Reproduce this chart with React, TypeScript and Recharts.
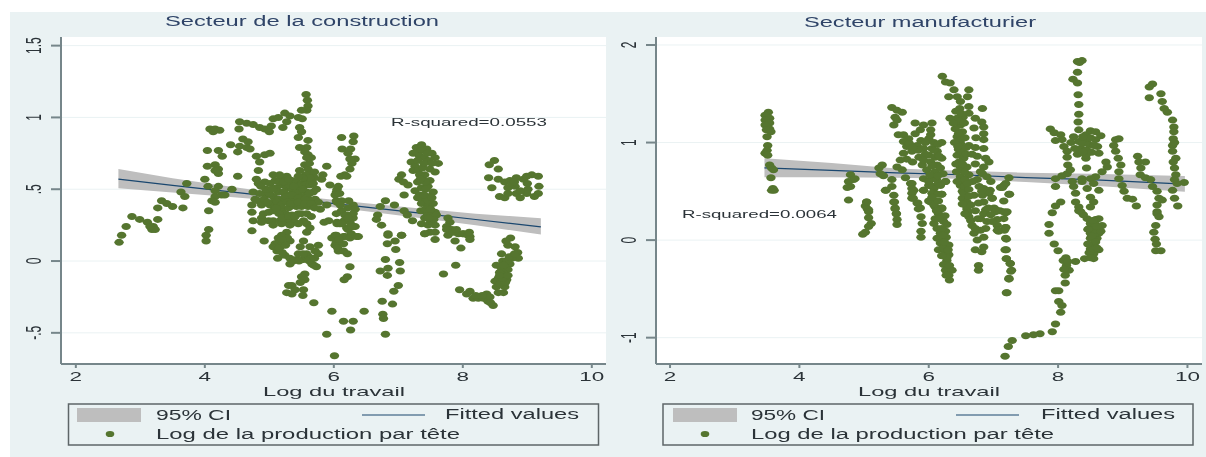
import React from "react";
import {
  Area,
  CartesianGrid,
  ComposedChart,
  Line,
  Scatter,
  XAxis,
  YAxis,
} from "recharts";

const xTicks = [2, 4, 6, 8, 10];
const constructionYTicks = [-0.5, 0, 0.5, 1, 1.5];
const manufacturingYTicks = [-1, 0, 1, 2];

// Fit and 95% band
const constructionBandX = [2.66, 3.5, 4.3, 5, 5.7, 6.5, 7.3, 8.2, 9.21];
const constructionFit = [0.57, 0.527, 0.487, 0.451, 0.416, 0.375, 0.335, 0.289, 0.238];
const constructionLow = [0.507, 0.477, 0.45, 0.423, 0.391, 0.347, 0.302, 0.249, 0.185];
const constructionHigh = [0.64, 0.577, 0.524, 0.479, 0.441, 0.403, 0.368, 0.329, 0.298];

const manufacturingBandX = [3.46, 4.5, 5.5, 6.5, 7.5, 8.5, 9.96];
const manufacturingFit = [0.74, 0.715, 0.69, 0.67, 0.64, 0.62, 0.574];
const manufacturingLow = [0.645, 0.645, 0.64, 0.63, 0.595, 0.56, 0.495];
const manufacturingHigh = [0.84, 0.79, 0.735, 0.71, 0.69, 0.68, 0.656];

// [log du travail, log de la production par tete]
const constructionPoints = [
  [5.57, 1.16], [5.59, 1.12], [5.6, 1.08], [5.58, 1.05], [5.5, 1.05], [5.06, 0.99], [5.14, 1.0], [5.24, 1.03],
  [5.32, 1.01], [5.45, 1.0], [5.51, 0.99], [5.27, 0.97], [5.21, 0.93], [4.54, 0.97], [4.65, 0.96], [4.75, 0.95],
  [4.85, 0.93], [4.93, 0.92], [5.03, 0.94], [5.0, 0.9], [4.53, 0.92], [4.08, 0.92], [4.16, 0.92], [4.23, 0.91],
  [4.13, 0.9], [5.47, 0.93], [5.5, 0.9], [5.45, 0.86], [4.59, 0.85], [4.67, 0.83], [4.54, 0.8], [4.65, 0.79],
  [4.7, 0.78], [4.51, 0.76], [4.4, 0.81], [4.04, 0.77], [4.21, 0.77], [4.27, 0.73], [4.8, 0.73], [4.93, 0.74],
  [5.01, 0.75], [4.85, 0.69], [5.6, 0.84], [5.58, 0.79], [5.47, 0.79], [5.55, 0.76], [5.6, 0.74], [5.65, 0.72],
  [5.58, 0.72], [5.55, 0.67], [5.6, 0.64], [5.47, 0.63], [5.89, 0.66], [5.65, 0.61], [4.16, 0.67], [4.04, 0.66],
  [4.21, 0.64], [4.16, 0.63], [4.21, 0.61], [4.0, 0.57], [4.51, 0.59], [4.83, 0.63], [5.06, 0.6], [5.83, 0.6],
  [5.81, 0.57], [4.8, 0.57], [4.83, 0.54], [4.93, 0.55], [5.01, 0.54], [5.09, 0.56], [5.17, 0.57], [5.27, 0.59],
  [5.35, 0.56], [5.42, 0.55], [5.5, 0.54], [5.58, 0.57], [5.55, 0.53], [5.63, 0.53], [5.48, 0.49], [5.58, 0.48],
  [5.68, 0.48], [5.61, 0.43], [5.71, 0.43], [5.73, 0.5], [5.11, 0.51], [5.19, 0.53], [5.27, 0.51], [5.35, 0.5],
  [5.42, 0.48], [5.14, 0.48], [5.22, 0.48], [5.3, 0.46], [5.06, 0.45], [5.14, 0.43], [5.22, 0.43], [5.37, 0.43],
  [5.5, 0.45], [4.75, 0.48], [4.78, 0.43], [4.73, 0.39], [4.83, 0.42], [4.88, 0.39], [5.01, 0.39], [5.06, 0.41],
  [4.21, 0.52], [4.16, 0.49], [4.05, 0.52], [4.26, 0.46], [4.16, 0.45], [4.11, 0.42], [4.31, 0.46], [4.16, 0.41],
  [4.42, 0.5], [4.06, 0.35], [5.42, 0.38], [5.45, 0.33], [4.73, 0.34], [5.79, 0.36], [5.89, 0.39], [6.02, 0.46],
  [5.94, 0.53], [6.05, 0.5], [6.05, 0.41], [5.76, 0.41], [4.91, 0.33], [4.99, 0.34], [5.06, 0.35], [4.75, 0.28],
  [4.88, 0.3], [4.99, 0.28], [5.06, 0.28], [5.17, 0.28], [5.24, 0.27], [5.32, 0.28], [5.4, 0.27], [5.53, 0.28],
  [6.05, 0.27], [4.06, 0.22], [4.02, 0.18], [4.02, 0.14], [4.73, 0.21], [4.92, 0.14], [4.88, 0.27], [5.06, 0.25],
  [5.19, 0.26], [5.32, 0.25], [5.45, 0.26], [5.58, 0.26], [5.63, 0.23], [5.58, 0.2], [5.27, 0.2], [5.19, 0.18],
  [5.14, 0.16], [5.09, 0.12], [5.17, 0.1], [5.06, 0.1], [5.14, 0.13], [5.32, 0.14], [5.53, 0.14], [5.48, 0.1],
  [5.63, 0.1], [5.76, 0.11], [5.71, 0.07], [5.76, 0.05], [5.58, 0.05], [5.92, 0.28], [6.05, 0.26], [6.02, 0.18],
  [5.97, 0.16], [6.05, 0.15], [6.02, 0.11], [6.07, 0.07], [5.13, 0.02], [5.24, 0.04], [5.32, 0.02], [5.42, 0.01],
  [5.53, 0.01], [5.61, 0.03], [5.32, -0.02], [5.37, 0.0], [5.66, -0.02], [5.73, -0.04], [5.69, -0.03], [5.55, -0.09],
  [5.5, -0.11], [5.55, -0.13], [5.48, -0.15], [5.35, -0.17], [5.3, -0.17], [5.53, -0.2], [5.4, -0.2], [5.27, -0.22],
  [5.35, -0.23], [5.52, -0.24], [5.69, -0.29], [5.97, -0.35], [5.89, -0.51], [6.01, -0.66], [6.12, 0.86], [6.31, 0.87],
  [6.3, 0.83], [6.13, 0.78], [6.26, 0.78], [6.22, 0.75], [6.33, 0.71], [6.28, 0.68], [6.25, 0.64], [6.17, 0.6],
  [6.11, 0.59], [6.25, 0.71], [6.2, 0.59], [6.07, 0.52], [6.04, 0.48], [6.09, 0.47], [6.04, 0.42], [6.3, 0.39],
  [6.22, 0.37], [6.12, 0.35], [6.33, 0.36], [6.04, 0.33], [6.3, 0.3], [6.17, 0.32], [6.09, 0.26], [6.2, 0.23],
  [6.33, 0.24], [6.27, 0.19], [6.17, 0.17], [6.38, 0.17], [7.05, 0.6], [7.01, 0.57], [7.08, 0.55], [7.15, 0.53],
  [7.09, 0.46], [6.8, 0.42], [6.72, 0.38], [6.94, 0.39], [7.09, 0.35], [7.14, 0.32], [6.68, 0.32], [6.66, 0.29],
  [6.74, 0.25], [7.22, 0.28], [6.84, 0.18], [7.05, 0.18], [7.28, 0.79], [7.36, 0.81], [7.44, 0.78], [7.52, 0.75],
  [7.57, 0.72], [7.62, 0.68], [7.23, 0.75], [7.28, 0.76], [7.36, 0.77], [7.2, 0.69], [7.26, 0.66], [7.23, 0.63],
  [7.31, 0.63], [7.49, 0.64], [7.57, 0.62], [7.41, 0.6], [7.39, 0.56], [7.49, 0.56], [7.26, 0.49], [7.36, 0.51],
  [7.46, 0.52], [7.54, 0.48], [7.33, 0.46], [7.49, 0.45], [7.41, 0.42], [7.36, 0.4], [7.46, 0.38], [7.54, 0.4],
  [7.57, 0.34], [7.49, 0.32], [7.59, 0.32], [7.41, 0.3], [7.36, 0.26], [7.57, 0.25], [7.49, 0.2], [7.41, 0.19],
  [7.46, 0.25], [7.77, 0.3], [7.8, 0.27], [7.75, 0.24], [7.83, 0.22], [7.93, 0.19], [8.01, 0.19], [8.11, 0.17],
  [7.77, 0.18], [8.49, 0.7], [8.41, 0.67], [8.55, 0.64], [8.4, 0.58], [8.55, 0.57], [8.65, 0.55], [8.73, 0.56],
  [8.83, 0.58], [8.94, 0.57], [9.07, 0.6], [9.17, 0.59], [8.99, 0.59], [8.45, 0.51], [8.7, 0.51], [8.81, 0.52],
  [9.01, 0.5], [9.18, 0.52], [8.83, 0.47], [8.89, 0.44], [8.57, 0.45], [8.65, 0.44], [9.17, 0.47], [9.11, 0.45],
  [8.99, 0.47], [8.89, 0.49], [8.76, 0.54], [6.84, 0.19], [7.05, 0.18], [6.83, 0.12], [6.95, 0.14], [6.96, 0.08],
  [6.8, 0.01], [7.02, -0.01], [6.84, -0.05], [6.72, -0.07], [7.03, -0.07], [6.83, -0.1], [7.0, -0.17], [6.93, -0.21],
  [6.75, -0.28], [6.91, -0.3], [6.76, -0.37], [6.77, -0.4], [6.8, -0.51], [6.47, -0.35], [6.15, -0.42], [6.3, -0.42],
  [6.26, -0.48], [6.25, -0.04], [6.21, -0.11], [6.16, -0.13], [6.04, 0.18], [6.15, 0.17], [6.25, 0.16], [6.35, 0.17],
  [6.3, 0.24], [6.22, 0.22], [6.04, 0.13], [6.06, 0.09], [6.15, 0.07], [6.21, 0.05], [7.41, 0.19], [7.57, 0.2],
  [7.57, 0.15], [7.75, 0.22], [7.85, 0.2], [8.0, 0.19], [8.08, 0.18], [7.88, 0.14], [8.11, 0.15], [7.97, 0.09],
  [7.89, -0.03], [7.7, -0.09], [8.74, 0.16], [8.7, 0.11], [8.81, 0.1], [8.85, 0.06], [8.6, 0.05], [8.86, 0.02],
  [8.76, 0.02], [8.73, -0.02], [8.52, -0.03], [8.6, -0.05], [8.7, -0.06], [8.65, -0.1], [8.55, -0.12], [8.68, -0.13],
  [8.5, -0.14], [8.6, -0.14], [8.52, -0.18], [8.65, -0.18], [8.55, -0.22], [8.63, -0.22], [7.95, -0.2], [8.11, -0.21],
  [8.16, -0.26], [8.24, -0.26], [8.37, -0.23], [8.32, -0.26], [8.39, -0.28], [8.47, -0.31], [8.06, -0.23], [3.72, 0.54],
  [3.63, 0.48], [3.69, 0.45], [3.33, 0.42], [3.41, 0.4], [3.27, 0.37], [3.5, 0.38], [3.66, 0.37], [2.87, 0.31],
  [2.99, 0.29], [3.11, 0.27], [3.27, 0.29], [2.78, 0.24], [3.2, 0.24], [2.71, 0.18], [2.67, 0.13], [3.18, 0.22],
  [3.23, 0.22], [3.15, 0.24],
  // thick parts of the cloud
  [5.2, 0.36], [5.3, 0.37], [5.4, 0.4], [5.5, 0.38], [5.6, 0.38], [5.15, 0.55], [5.3, 0.53], [5.45, 0.52],
  [5.25, 0.45], [5.35, 0.46], [5.45, 0.44], [5.55, 0.43], [5.65, 0.56], [5.7, 0.62], [5.62, 0.68], [5.56, 0.6],
  [5.25, 0.33], [5.35, 0.32], [4.85, 0.47], [4.95, 0.46], [5.0, 0.47], [7.33, 0.73], [7.4, 0.72], [7.47, 0.7],
  [7.33, 0.6], [7.38, 0.65], [7.3, 0.55], [7.42, 0.5], [7.35, 0.35], [7.45, 0.33], [7.5, 0.28], [8.62, 0.0],
  [8.68, 0.0], [8.72, 0.03], [8.62, -0.08], [8.58, -0.16], [8.66, -0.15], [8.42, -0.25], [8.1, 0.2], [7.9, 0.22],
  [6.12, 0.42], [6.16, 0.28], [6.25, 0.27], [6.3, 0.33], [6.23, 0.42], [5.85, 0.27], [5.2, 0.12], [5.65, 0.02],
  [5.12, 0.41], [5.18, 0.39], [5.28, 0.41], [5.33, 0.4], [5.45, 0.41], [5.55, 0.4], [5.65, 0.4], [5.7, 0.37],
  [5.1, 0.37], [5.15, 0.33], [5.2, 0.3], [5.3, 0.31], [5.4, 0.31], [5.5, 0.33], [5.58, 0.33], [5.65, 0.31],
  [5.16, 0.6], [5.22, 0.55], [5.3, 0.57], [5.38, 0.52], [5.52, 0.5], [5.62, 0.47], [5.68, 0.54], [5.7, 0.58],
  [5.63, 0.58], [5.52, 0.58], [5.45, 0.59], [4.95, 0.5], [5.05, 0.5], [4.87, 0.52], [4.92, 0.43], [4.97, 0.41],
  [5.28, 0.16], [5.2, 0.15], [5.12, 0.07], [5.2, 0.06], [5.15, 0.09], [5.25, 0.11], [5.45, 0.05], [5.52, 0.05],
  [5.62, 0.0], [5.46, 0.0], [5.7, 0.02], [7.3, 0.7], [7.4, 0.68], [7.45, 0.75], [7.52, 0.68], [7.42, 0.55],
  [7.34, 0.57], [7.3, 0.44], [7.4, 0.46], [7.46, 0.42], [7.52, 0.44], [7.42, 0.36], [7.5, 0.36], [7.55, 0.29],
  [7.47, 0.3], [8.57, -0.08], [8.62, -0.12], [8.57, -0.1], [8.7, -0.1], [8.63, -0.03], [8.8, 0.05], [8.67, 0.14],
  [8.3, -0.24], [8.2, -0.24], [8.43, -0.29], [9.0, 0.54], [8.7, 0.47], [8.8, 0.55], [6.12, 0.26], [6.2, 0.32],
  [6.28, 0.24], [6.1, 0.39], [6.22, 0.3], [6.15, 0.12], [6.08, 0.15],
];

const manufacturingPoints = [
  [3.52, 1.31], [3.47, 1.28], [3.54, 1.25], [3.47, 1.23], [3.54, 1.2], [3.47, 1.18], [3.54, 1.14], [3.49, 1.13],
  [3.56, 1.11], [3.5, 1.06], [3.51, 0.97], [3.5, 0.92], [3.47, 0.89], [3.51, 0.87], [3.54, 0.77], [3.57, 0.74],
  [3.6, 0.72], [3.56, 0.64], [3.59, 0.53], [3.61, 0.51], [3.57, 0.51], [4.79, 0.67], [4.84, 0.62], [4.76, 0.6],
  [4.79, 0.55], [4.74, 0.54], [4.86, 0.63], [4.76, 0.41], [5.04, 0.39], [5.02, 0.35], [5.07, 0.31], [5.28, 0.77],
  [5.23, 0.74], [5.25, 0.68], [5.3, 0.66], [5.43, 1.36], [5.51, 1.33], [5.59, 1.31], [5.48, 1.26], [5.46, 1.18],
  [5.51, 1.23], [5.79, 1.2], [5.92, 1.18], [6.05, 1.2], [5.87, 1.13], [6.03, 1.13], [5.53, 1.08], [5.61, 1.08],
  [5.79, 1.09], [5.69, 1.04], [5.61, 1.01], [5.66, 0.96], [6.0, 1.04], [6.03, 1.08], [5.82, 0.97], [5.92, 0.94],
  [6.2, 1.0], [6.05, 0.94], [5.61, 0.89], [5.74, 0.91], [5.84, 0.92], [6.13, 0.91], [5.56, 0.82], [6.0, 0.87],
  [6.1, 0.85], [6.2, 0.84], [5.51, 0.75], [5.59, 0.72], [5.9, 0.77], [6.03, 0.8], [6.13, 0.77], [5.97, 0.72],
  [6.1, 0.7], [6.05, 0.63], [5.64, 0.64], [5.92, 0.63], [6.26, 0.6], [5.43, 0.62], [5.74, 0.58], [5.43, 0.55],
  [6.03, 0.56], [5.33, 0.51], [5.77, 0.51], [5.92, 0.51], [6.08, 0.53], [5.46, 0.46], [5.74, 0.43], [6.08, 0.48],
  [6.2, 0.47], [5.46, 0.39], [5.82, 0.38], [5.48, 0.33], [5.87, 0.33], [6.03, 0.39], [6.1, 0.34], [6.2, 0.33],
  [5.5, 0.27], [6.21, 1.68], [6.26, 1.62], [6.33, 1.61], [6.39, 1.54], [6.31, 1.47], [6.44, 1.47], [6.49, 1.42],
  [6.48, 1.35], [6.62, 1.54], [6.6, 1.47], [6.33, 1.25], [6.44, 1.25], [6.53, 1.26], [6.49, 1.18], [6.41, 1.14],
  [6.52, 1.11], [6.44, 1.06], [6.49, 0.99], [6.62, 0.97], [6.44, 0.87], [6.54, 0.84], [6.49, 0.75], [6.59, 0.75],
  [6.49, 0.65], [6.62, 0.67], [6.49, 0.56], [6.52, 0.5], [6.57, 0.36], [6.52, 0.43], [6.62, 1.3], [6.62, 1.37],
  [5.04, 0.39], [5.05, 0.32], [5.07, 0.29], [5.07, 0.23], [5.11, 0.17], [5.07, 0.14], [5.02, 0.08], [4.98, 0.06],
  [5.47, 0.39], [5.48, 0.32], [5.5, 0.27], [5.51, 0.21], [5.51, 0.16], [5.34, 0.51], [5.72, 0.58], [5.74, 0.53],
  [5.74, 0.48], [5.76, 0.43], [5.83, 0.38], [5.84, 0.32], [5.88, 0.24], [5.9, 0.17], [5.88, 0.09], [5.88, 0.03],
  [6.0, 0.56], [5.92, 0.51], [6.05, 0.48], [6.2, 0.47], [6.26, 0.6], [6.0, 0.4], [6.08, 0.36], [6.2, 0.32],
  [6.15, 0.27], [6.23, 0.19], [6.08, 0.17], [6.13, 0.12], [6.26, 0.09], [6.13, 0.02], [6.23, 0.0], [6.18, -0.03],
  [6.31, -0.05], [6.15, -0.1], [6.26, -0.12], [6.31, -0.15], [6.28, -0.21], [6.23, -0.25], [6.26, -0.31], [6.36, -0.31],
  [6.31, -0.36], [6.32, -0.41], [6.51, 0.58], [6.54, 0.48], [6.59, 0.39], [6.59, 0.32], [6.62, 0.24], [6.67, 0.15],
  [6.7, 0.07], [6.75, 0.0], [6.72, -0.1], [6.82, -0.12], [6.85, -0.07], [6.77, -0.26], [6.77, -0.31], [6.7, 0.46],
  [6.77, 0.38], [6.85, 0.53], [6.95, 0.51], [6.98, 0.43], [6.85, 0.27], [6.9, 0.19], [6.88, 0.12], [6.85, 0.03],
  [7.03, 0.31], [7.19, 0.28], [7.16, 0.22], [7.06, 0.15], [7.19, 0.13], [7.08, 0.09], [7.24, 0.64], [7.19, 0.58],
  [7.14, 0.54], [7.24, 0.47], [7.16, 0.4], [7.19, 0.02], [7.2, -0.1], [7.2, -0.19], [7.26, -0.24], [7.28, -0.31],
  [7.24, -0.4], [7.2, -0.54], [6.83, 1.35], [6.82, 1.21], [6.85, 1.16], [6.85, 1.09], [6.85, 1.03], [6.85, 0.94],
  [6.88, 0.84], [6.93, 0.8], [6.85, 0.75], [6.83, 0.68], [6.88, 0.51], [6.93, 0.48], [6.83, 0.46], [6.98, 0.43],
  [7.01, 0.33], [6.85, 0.39], [6.88, 0.31], [7.16, 0.56], [7.11, 0.54], [7.25, 0.47], [7.21, 0.29], [7.04, 0.31],
  [8.3, 1.83], [8.37, 1.84], [8.33, 1.82], [8.3, 1.72], [8.23, 1.65], [8.3, 1.61], [8.31, 1.49], [8.32, 1.39],
  [8.32, 1.29], [8.31, 1.21], [8.32, 1.13], [7.88, 1.14], [7.94, 1.1], [8.04, 1.08], [7.96, 1.02], [8.06, 1.03],
  [8.09, 0.96], [8.14, 0.91], [8.14, 0.85], [8.15, 0.77], [8.24, 1.06], [8.32, 1.01], [8.43, 1.08], [8.5, 1.12],
  [8.58, 1.11], [8.66, 1.07], [8.45, 1.03], [8.58, 1.03], [8.35, 0.94], [8.45, 0.92], [8.61, 0.96], [8.63, 0.89],
  [8.43, 0.84], [8.43, 0.87], [8.74, 0.8], [8.76, 0.75], [8.68, 0.7], [8.44, 0.74], [8.58, 0.65], [8.14, 0.68],
  [8.06, 0.66], [7.96, 0.63], [8.19, 0.72], [8.37, 0.63], [8.5, 0.63], [8.55, 0.58], [8.22, 0.6], [7.96, 0.55],
  [8.24, 0.55], [8.45, 0.53], [8.63, 0.51], [8.27, 0.48], [8.5, 0.44], [8.04, 0.39], [7.96, 0.35], [8.55, 0.39],
  [8.27, 0.39], [8.32, 0.34], [8.5, 0.34], [7.91, 0.28], [8.35, 0.29], [8.89, 1.03], [8.94, 1.04], [8.86, 0.97],
  [8.89, 0.91], [8.93, 0.84], [8.97, 0.77], [8.94, 0.7], [8.94, 0.63], [8.99, 0.56], [9.02, 0.5], [9.07, 0.43],
  [9.15, 0.42], [9.21, 0.35], [9.23, 0.86], [9.25, 0.8], [9.35, 0.8], [9.28, 0.74], [9.27, 0.67], [9.35, 0.64],
  [9.43, 0.62], [9.46, 1.6], [9.41, 1.57], [9.41, 1.46], [9.59, 1.5], [9.61, 1.42], [9.64, 1.35], [9.69, 1.31],
  [9.77, 1.23], [9.79, 1.16], [9.79, 1.11], [9.78, 1.04], [9.77, 0.97], [9.77, 0.91], [9.82, 0.84], [9.8, 0.74],
  [9.82, 0.67], [9.95, 0.59], [9.84, 0.58], [9.77, 0.51], [9.8, 0.43], [9.85, 0.35], [9.46, 0.55], [9.53, 0.5],
  [9.56, 0.43], [9.61, 0.41], [9.53, 0.36], [9.53, 0.29], [7.86, 0.16], [7.86, 0.07], [7.94, -0.04], [8.0, -0.11],
  [8.08, -0.21], [8.27, -0.22], [8.41, -0.19], [8.55, -0.19], [8.17, -0.31], [8.13, -0.26], [8.11, -0.36], [8.11, -0.44],
  [8.01, -0.52], [7.96, -0.52], [8.01, -0.63], [8.06, -0.67], [8.04, -0.74], [7.96, -0.86], [7.91, -0.94], [7.72, -0.96],
  [7.62, -0.97], [7.5, -0.98], [7.29, -1.03], [7.23, -1.09], [7.18, -1.19], [7.21, -0.54], [7.24, -0.39], [7.27, -0.32],
  [7.26, -0.24], [7.2, -0.19], [7.18, -0.1], [7.2, 0.01], [7.17, 0.1], [8.5, -0.09], [8.55, -0.04], [8.6, 0.02],
  [8.5, 0.02], [8.63, 0.07], [8.5, 0.07], [8.63, 0.12], [8.68, 0.15], [8.58, 0.21], [8.5, 0.17], [8.45, 0.22],
  [8.39, 0.26], [8.32, 0.3], [8.48, 0.12], [8.63, -0.1], [8.63, 0.22], [8.55, -0.14], [8.48, -0.13], [9.53, 0.27],
  [9.56, 0.24], [9.51, 0.15], [9.48, 0.08], [9.5, 0.01], [9.52, -0.04], [9.51, -0.11], [9.59, -0.11], [7.03, 0.29],
  [7.16, 0.29], [7.06, 0.21], [7.19, 0.13], [7.06, 0.1], [6.98, 0.19],
  // thick parts of the columns
  [6.47, 1.22], [6.38, 1.2], [6.46, 1.09], [6.5, 1.03], [6.46, 0.93], [6.52, 0.9], [6.58, 0.88], [6.47, 0.8],
  [6.55, 0.7], [6.43, 0.7], [6.47, 0.6], [6.55, 0.55], [6.62, 0.45], [6.65, 0.36], [6.6, 0.28], [6.65, 0.2],
  [5.95, 0.88], [6.02, 0.67], [6.12, 0.62], [6.0, 0.6], [6.15, 0.58], [6.15, 0.4], [6.25, 0.25], [6.18, 0.07],
  [6.22, -0.08], [6.28, -0.18], [6.2, 0.33], [6.1, 0.22], [6.27, 0.03], [6.7, 1.15], [6.73, 1.05], [6.72, 0.95],
  [6.75, 0.86], [6.72, 0.78], [6.8, 0.7], [6.75, 0.62], [6.68, 0.6], [6.62, 0.52], [6.96, 0.6], [6.9, 0.65],
  [6.8, 0.1], [6.8, 0.22], [8.55, 0.12], [8.58, 0.07], [8.55, -0.09], [8.58, 0.16], [8.66, 0.09], [8.43, 0.92],
  [8.38, 0.99], [8.48, 0.98], [8.3, 0.88], [8.37, 0.6], [9.78, 0.8], [9.8, 0.62],
  [5.7, 0.99], [5.75, 0.95], [5.88, 1.02], [5.95, 1.0], [5.66, 0.83], [5.75, 0.8], [5.85, 0.85], [5.92, 0.82],
  [6.08, 1.0], [6.14, 0.98], [6.16, 0.86], [6.08, 0.92], [6.18, 0.74], [6.22, 0.68], [6.05, 0.76], [6.14, 0.66],
  [6.18, 0.56], [6.14, 0.47], [6.05, 0.44], [6.12, 0.3], [6.16, 0.22], [6.2, 0.12], [6.28, 0.16], [6.22, 0.05],
  [6.24, -0.02], [6.3, -0.1], [6.2, -0.16], [6.32, -0.26], [6.27, -0.36], [6.42, 1.32], [6.5, 1.3], [6.55, 1.2],
  [6.4, 1.0], [6.45, 0.96], [6.56, 1.05], [6.58, 0.95], [6.42, 0.78], [6.52, 0.78], [6.44, 0.6], [6.56, 0.62],
  [6.6, 0.58], [6.52, 0.37], [6.56, 0.27], [6.72, 1.25], [6.67, 0.88], [6.78, 0.55], [6.82, 0.5], [6.72, 0.3],
  [6.76, 0.22], [6.72, 0.12], [6.92, 0.33], [6.96, 0.26], [7.1, 0.3], [8.5, 1.05], [8.38, 1.06], [8.2, 1.0],
  [8.26, 0.94], [8.38, 0.9], [8.52, 0.9], [8.55, 0.97], [8.46, 0.11], [8.52, 0.04], [8.58, -0.02], [8.6, -0.08],
  [8.46, -0.04], [8.54, 0.2], [8.6, 0.14], [8.5, -0.18], [8.12, -0.18], [8.15, -0.22], [8.09, -0.3], [9.8, 1.0],
];

const PANEL_BG = "#eaf2f3";
const AXIS_COLOR = "#76868a";
const DOT_COLOR = "#55752f";
const FIT_COLOR = "#1a476f";
const BAND_COLOR = "#bebebe";
const TEXT_COLOR = "#2b3338";
const FONT = "'Liberation Sans', Arial, sans-serif";

const formatY = (v: number) => String(v).replace("0.", ".");

const XTick = ({ x, y, payload }: any) => (
  <text
    x={x}
    y={y + 13}
    textAnchor="middle"
    fontFamily={FONT}
    fontSize={13}
    fill={TEXT_COLOR}
    textLength={payload.value >= 10 ? 25 : 12.5}
    lengthAdjust="spacingAndGlyphs"
  >
    {payload.value}
  </text>
);

const YTick = ({ x, y, payload }: any) => (
  <text
    transform={`translate(${x - 10},${y}) scale(1.8,1) rotate(-90)`}
    textAnchor="middle"
    fontFamily={FONT}
    fontSize={12}
    fill={TEXT_COLOR}
  >
    {formatY(payload.value)}
  </text>
);

const Dot = ({ cx, cy }: any) => (
  <ellipse cx={cx} cy={cy} rx={4.7} ry={3.5} fill={DOT_COLOR} />
);

function Panel({ left, marginLeft, xDomain, yDomain, yTicks, bandX, fit, low, high, points }: any) {
  const bandRows = bandX.map((x: number, i: number) => ({
    x,
    fit: fit[i],
    band: [low[i], high[i]],
  }));
  const dots = points.map(([x, y]: number[]) => ({ x, y }));
  return (
    <div style={{ position: "absolute", left, top: 12 }}>
      <ComposedChart
        width={596}
        height={445}
        data={bandRows}
        margin={{ top: 25, right: 0, bottom: 71, left: marginLeft }}
      >
        <CartesianGrid
          vertical={false}
          stroke={PANEL_BG}
          fill="#ffffff"
          horizontalValues={yTicks}
        />
        <XAxis
          type="number"
          dataKey="x"
          domain={xDomain}
          ticks={xTicks}
          allowDataOverflow
          height={22}
          tickSize={4}
          tickMargin={0}
          stroke={AXIS_COLOR}
          strokeWidth={2}
          tick={<XTick />}
        />
        <YAxis
          type="number"
          domain={yDomain}
          ticks={yTicks}
          allowDataOverflow
          width={30}
          tickSize={10}
          tickMargin={0}
          stroke={AXIS_COLOR}
          strokeWidth={2}
          tick={<YTick />}
        />
        <Area
          dataKey="band"
          stroke="none"
          fill={BAND_COLOR}
          fillOpacity={1}
          isAnimationActive={false}
          dot={false}
          activeDot={false}
        />
        <Line
          dataKey="fit"
          stroke={FIT_COLOR}
          strokeWidth={1.2}
          dot={false}
          activeDot={false}
          isAnimationActive={false}
        />
        <Scatter data={dots} dataKey="y" shape={<Dot />} isAnimationActive={false} />
      </ComposedChart>
    </div>
  );
}

// Stretched label: the reference is widened, so each text gets its measured width
const Label = ({ x, y, w, size = 14, fill = TEXT_COLOR, children }: any) => (
  <text
    x={x}
    y={y}
    fontFamily={FONT}
    fontSize={size}
    fill={fill}
    textLength={w}
    lengthAdjust="spacingAndGlyphs"
  >
    {children}
  </text>
);

const LegendBox = ({ box, swatch, line, dotX, ciX, ciW, fitX, fitW, logW }: any) => (
  <g>
    <rect x={box} y={404} width={530} height={41} fill={PANEL_BG} stroke="#5e6668" strokeWidth={1.5} />
    <rect x={swatch} y={408} width={64} height={14} fill={BAND_COLOR} />
    <Label x={ciX} y={420} w={ciW}>95% CI</Label>
    <line x1={line} x2={line + 63} y1={415} y2={415} stroke={FIT_COLOR} strokeWidth={1.2} />
    <Label x={fitX} y={419} w={fitW}>Fitted values</Label>
    <ellipse cx={dotX} cy={434} rx={4.3} ry={3.1} fill={DOT_COLOR} />
    <Label x={ciX} y={439} w={logW}>Log de la production par tête</Label>
  </g>
);

export default function App() {
  return (
    <div style={{ position: "absolute", left: 0, top: 0, width: 1206, height: 457, background: "#fff", overflow: "hidden", filter: "blur(0.5px)" }}>
      <div style={{ position: "absolute", left: 10, top: 12, width: 1196, height: 445, background: PANEL_BG }} />
      <Panel
        left={10}
        marginLeft={21}
        xDomain={[1.77, 10.22]}
        yDomain={[-0.717, 1.56]}
        yTicks={constructionYTicks}
        bandX={constructionBandX}
        fit={constructionFit}
        low={constructionLow}
        high={constructionHigh}
        points={constructionPoints}
      />
      <Panel
        left={606}
        marginLeft={20}
        xDomain={[1.783, 10.225]}
        yDomain={[-1.27, 2.082]}
        yTicks={manufacturingYTicks}
        bandX={manufacturingBandX}
        fit={manufacturingFit}
        low={manufacturingLow}
        high={manufacturingHigh}
        points={manufacturingPoints}
      />
      <svg width={1206} height={457} style={{ position: "absolute", left: 0, top: 0, pointerEvents: "none" }}>
        <Label x={165} y={26} w={274} fill="#2f4468">Secteur de la construction</Label>
        <Label x={804} y={27} w={232} fill="#2f4468">Secteur manufacturier</Label>
        <Label x={391} y={126} w={156} size={11.5}>R-squared=0.0553</Label>
        <Label x={682} y={218} w={155} size={11.5}>R-squared=0.0064</Label>
        <Label x={263} y={396} size={13} w={142}>Log du travail</Label>
        <Label x={858} y={396} size={13} w={142}>Log du travail</Label>
        <LegendBox box={68.5} swatch={77} line={362} dotX={110} ciX={156} ciW={75} fitX={445} fitW={134} logW={304} />
        <LegendBox box={663} swatch={673} line={956} dotX={705} ciX={751} ciW={74} fitX={1041} fitW={134} logW={303} />
      </svg>
    </div>
  );
}
